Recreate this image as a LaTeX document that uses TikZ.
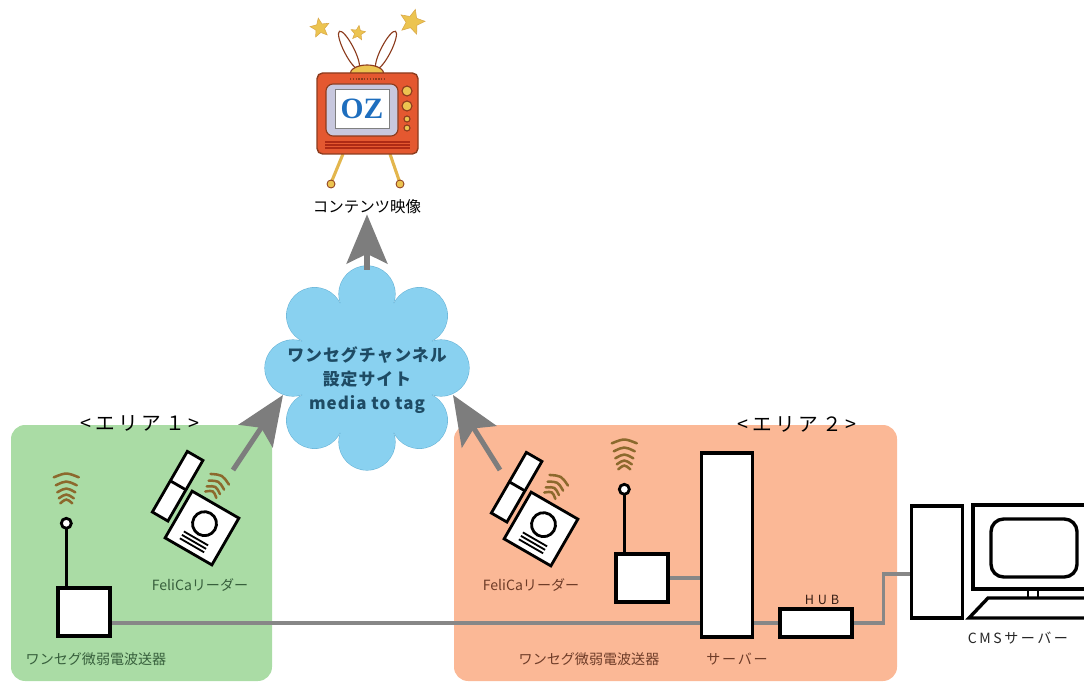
\documentclass[tikz,border=0pt]{standalone}
\usepackage{fontspec}
\setmainfont{Noto Sans CJK JP}
\newfontfamily\ozfont{Liberation Serif}
\usetikzlibrary{arrows.meta}
\usetikzlibrary{calc}
\usetikzlibrary{shapes.geometric}
\usetikzlibrary{backgrounds}

\definecolor{areagreen}{RGB}{170,220,165}
\definecolor{areaorange}{RGB}{251,184,150}
\definecolor{skyblue}{RGB}{137,209,240}
\definecolor{skyedge}{RGB}{105,180,215}
\definecolor{cable}{RGB}{135,135,135}
\definecolor{uplink}{RGB}{125,125,125}
\definecolor{wavebrown}{RGB}{140,105,45}
\definecolor{txtgreen}{RGB}{55,95,60}
\definecolor{txtbrown}{RGB}{110,60,40}
\definecolor{txtsite}{RGB}{30,75,100}
\definecolor{tvred}{RGB}{228,88,48}
\definecolor{tvedge}{RGB}{140,60,30}
\definecolor{tvgold}{RGB}{236,196,80}
\definecolor{tvscreen}{RGB}{200,200,222}
\definecolor{ozblue}{RGB}{30,110,190}

\begin{document}
\begin{tikzpicture}[x=0.025cm, y=-0.025cm,
    unit/.style={draw=black, fill=white, line width=2.4pt, inner sep=0pt},
    wire/.style={draw=cable, line width=2.2pt},
    flow/.style={draw=uplink, line width=3.6pt, -{Stealth[length=35pt, width=29pt, inset=7pt]}},
    wave/.style={draw=wavebrown, line width=1.8pt, line cap=round},
    lbl/.style={font=\fontsize{10}{12}\selectfont, inner sep=0pt},
    arealbl/.style={font={\fontsize{14}{16}\selectfont\addfontfeatures{LetterSpace=18}}, inner sep=0pt},
    waves/.pic={
      \foreach \y/\w in {-48/25,-40/21,-33/18,-27/15,-22/12}
        \draw[wave] (-\w/2,\y+2) .. controls (0,\y-3) .. (\w/2,\y+2);
    },
    reader/.pic={
      \begin{scope}[rotate=-30]
        \draw[unit, line width=2pt] (-27,-27) rectangle (27,27);
        \draw[line width=2pt] (0,-5) circle (12);
        \foreach \y in {12,16,20}
          \draw[line width=1.3pt] (-14,\y) -- (14,\y);
        \draw[unit, line width=2pt] (-51,-59) rectangle (-33,11);
        \draw[line width=2pt] (-51,-25) -- (-33,-25);
        \begin{scope}[shift={(-9,-12)}, scale=0.85]
          \foreach \y/\w in {-48/25,-40/21,-33/18,-27/15}
            \draw[wave] (-\w/2,\y+2) .. controls (0,\y-4) .. (\w/2,\y+2);
        \end{scope}
      \end{scope}
    }]
  \path[use as bounding box, clip] (0,0) rectangle (1084,682);

  % areas
  \begin{scope}[on background layer]
    \fill[areagreen, rounded corners=10pt] (11,425) rectangle (272,681);
    \fill[areaorange, rounded corners=10pt] (454,425) rectangle (897,681);
  \end{scope}
  \node[arealbl] (areaA) at (140,423) {<エリア１>};
  \node[arealbl] (areaB) at (797,424) {<エリア２>};

  % tv
  \node[star, star points=5, star point ratio=2.2, inner sep=0pt, minimum size=0.5cm,
    fill=tvgold, draw=tvgold!60!brown, rotate=10] (starA) at (320,28) {};
  \node[star, star points=5, star point ratio=2.2, inner sep=0pt, minimum size=0.38cm,
    fill=tvgold, draw=tvgold!60!brown, rotate=-8] (starB) at (358,33) {};
  \node[star, star points=5, star point ratio=2.2, inner sep=0pt, minimum size=0.65cm,
    fill=tvgold, draw=tvgold!60!brown, rotate=-15] (starC) at (412,22) {};
  \draw[tvedge, fill=white, line width=0.8pt, rotate around={27:(349,50)}] (349,50) ellipse (5 and 21);
  \draw[tvedge, fill=white, line width=0.8pt, rotate around={-27:(386,50)}] (386,50) ellipse (5 and 21);
  \draw[tvgold!80!brown, line width=2.2pt] (343,154) -- (331,183);
  \draw[tvgold!80!brown, line width=2.2pt] (390,154) -- (400,183);
  \draw[tvedge, fill=tvgold, line width=0.6pt] (331,184) circle (4);
  \draw[tvedge, fill=tvgold, line width=0.6pt] (400,184) circle (4);
  \draw[tvedge, fill=tvgold, line width=0.8pt] (350,74) arc[start angle=180, end angle=360, x radius=17, y radius=9] -- cycle;
  \draw[tvedge, fill=tvred, rounded corners=4pt, line width=1pt] (317,73) rectangle (418,154);
  \draw[tvedge, line width=1.2pt, dash pattern=on 1pt off 1pt] (350,79) -- (386,79);
  \draw[tvedge, fill=tvscreen, rounded corners=5pt, line width=0.8pt] (326,84) rectangle (398,136);
  \draw[gray, fill=white, line width=0.6pt] (335,89) rectangle (389,128);
  \node[font=\ozfont\bfseries\fontsize{21}{21}\selectfont, text=ozblue, inner sep=0pt] (oz) at (362,109) {OZ};
  \foreach \y/\r in {91/5,106/5,119/3,128/3}
    \draw[tvedge, fill=tvgold, line width=0.8pt] (407,\y) circle (\r);
  \foreach \y in {142,145,148}
    \draw[tvedge!70!red, line width=1pt] (325,\y) -- (410,\y);
  \node[lbl, font=\fontsize{11}{13}\selectfont] (tvlbl) at (367,207) {コンテンツ映像};

  % cloud
  \coordinate (site) at (367,368);
  \foreach \a in {0,45,...,315}
    \draw[skyedge, line width=0.8pt] ($(site)+(\a:74)$) circle (28);
  \foreach \a in {0,45,...,315}
    \fill[skyblue] ($(site)+(\a:74)$) circle (28);
  \fill[skyblue] (site) circle (70);
  \node[text=txtsite, align=center, inner sep=0pt,
    font={\fontsize{12}{17}\selectfont\bfseries\addfontfeatures{LetterSpace=6}}] (sitetxt) at (367,380)
    {ワンセグチャンネル\\設定サイト\\media to tag};

  \coordinate (upA) at (233,470);
  \coordinate (upB) at (500,470);
  \draw[flow] (upA) -- ($(site)+(-84,27)$);
  \draw[flow] (upB) -- ($(site)+(86,27)$);
  \draw[flow] ($(site)+(0,-98)$) -- (tvlbl.south);

  % area 1
  \node[unit, minimum width=1.3cm, minimum height=1.2cm] (txA) at (84,612) {};
  \coordinate (tipA) at ($(txA.north west)+(10,-63)$);
  \draw[line width=2pt] ($(txA.north west)+(10,0)$) -- ($(tipA)+(0,5)$);
  \draw[line width=2pt, fill=white] (tipA) circle (5);
  \pic at (tipA) {waves};
  \pic at (202,528) {reader};
  \node[lbl, text=txtgreen] (readerA) at (200,585) {FeliCaリーダー};
  \node[lbl, text=txtgreen] (txlblA) at (96,659) {ワンセグ微弱電波送器};

  % area 2
  \node[unit, minimum width=1.3cm, minimum height=1.2cm] (txB) at (642,578) {};
  \coordinate (tipB) at ($(txB.north west)+(10,-63)$);
  \draw[line width=2pt] ($(txB.north west)+(10,0)$) -- ($(tipB)+(0,5)$);
  \draw[line width=2pt, fill=white] (tipB) circle (5);
  \pic at (tipB) {waves};
  \pic at (541,529) {reader};
  \node[unit, minimum width=1.275cm, minimum height=4.6cm] (server) at (727,545) {};
  \node[unit, minimum width=1.8cm, minimum height=0.7cm] (hub) at (816,623) {};
  \node[lbl, text=txtbrown] (readerB) at (531,585) {FeliCaリーダー};
  \node[lbl, text=txtbrown] (txlblB) at (589,659) {ワンセグ微弱電波送器};
  \node[lbl, text=txtbrown, font={\fontsize{10}{12}\selectfont\addfontfeatures{LetterSpace=12}}] (srvlbl) at (737,659) {サーバー};
  \node[lbl, text=txtbrown!50!black, font={\fontsize{9}{10}\selectfont\addfontfeatures{LetterSpace=30}}] (hublbl) at (822,600) {HUB};

  % cms
  \node[unit, minimum width=1.275cm, minimum height=2.8cm] (tower) at (937,562) {};
  \draw[line width=2.4pt, fill=white] (973,505) rectangle (1100,589);
  \draw[line width=2.4pt, rounded corners=9pt] (991,519) rectangle (1077,577);
  \draw[line width=2pt] (1028,589) rectangle (1038,598);
  \draw[line width=2.4pt, fill=white] (988,598) -- (1100,598) -- (1100,618) -- (969,618) -- cycle;
  \node[lbl, text=black!85, font={\fontsize{10}{12}\selectfont\addfontfeatures{LetterSpace=18}}] (cmslbl) at (1018,638) {CMSサーバー};

  % cables
  \begin{scope}[on background layer]
    \draw[wire] (txA.east |- hub) -- (server.west |- hub);
    \draw[wire] (txB.east) -- (txB.east -| server.west);
    \draw[wire] (server.east |- hub) -- (hub.west);
    \draw[wire] (hub.east) -- ++(30,0) |- ([yshift=-0.3cm]tower.west);
  \end{scope}
\end{tikzpicture}
\end{document}
